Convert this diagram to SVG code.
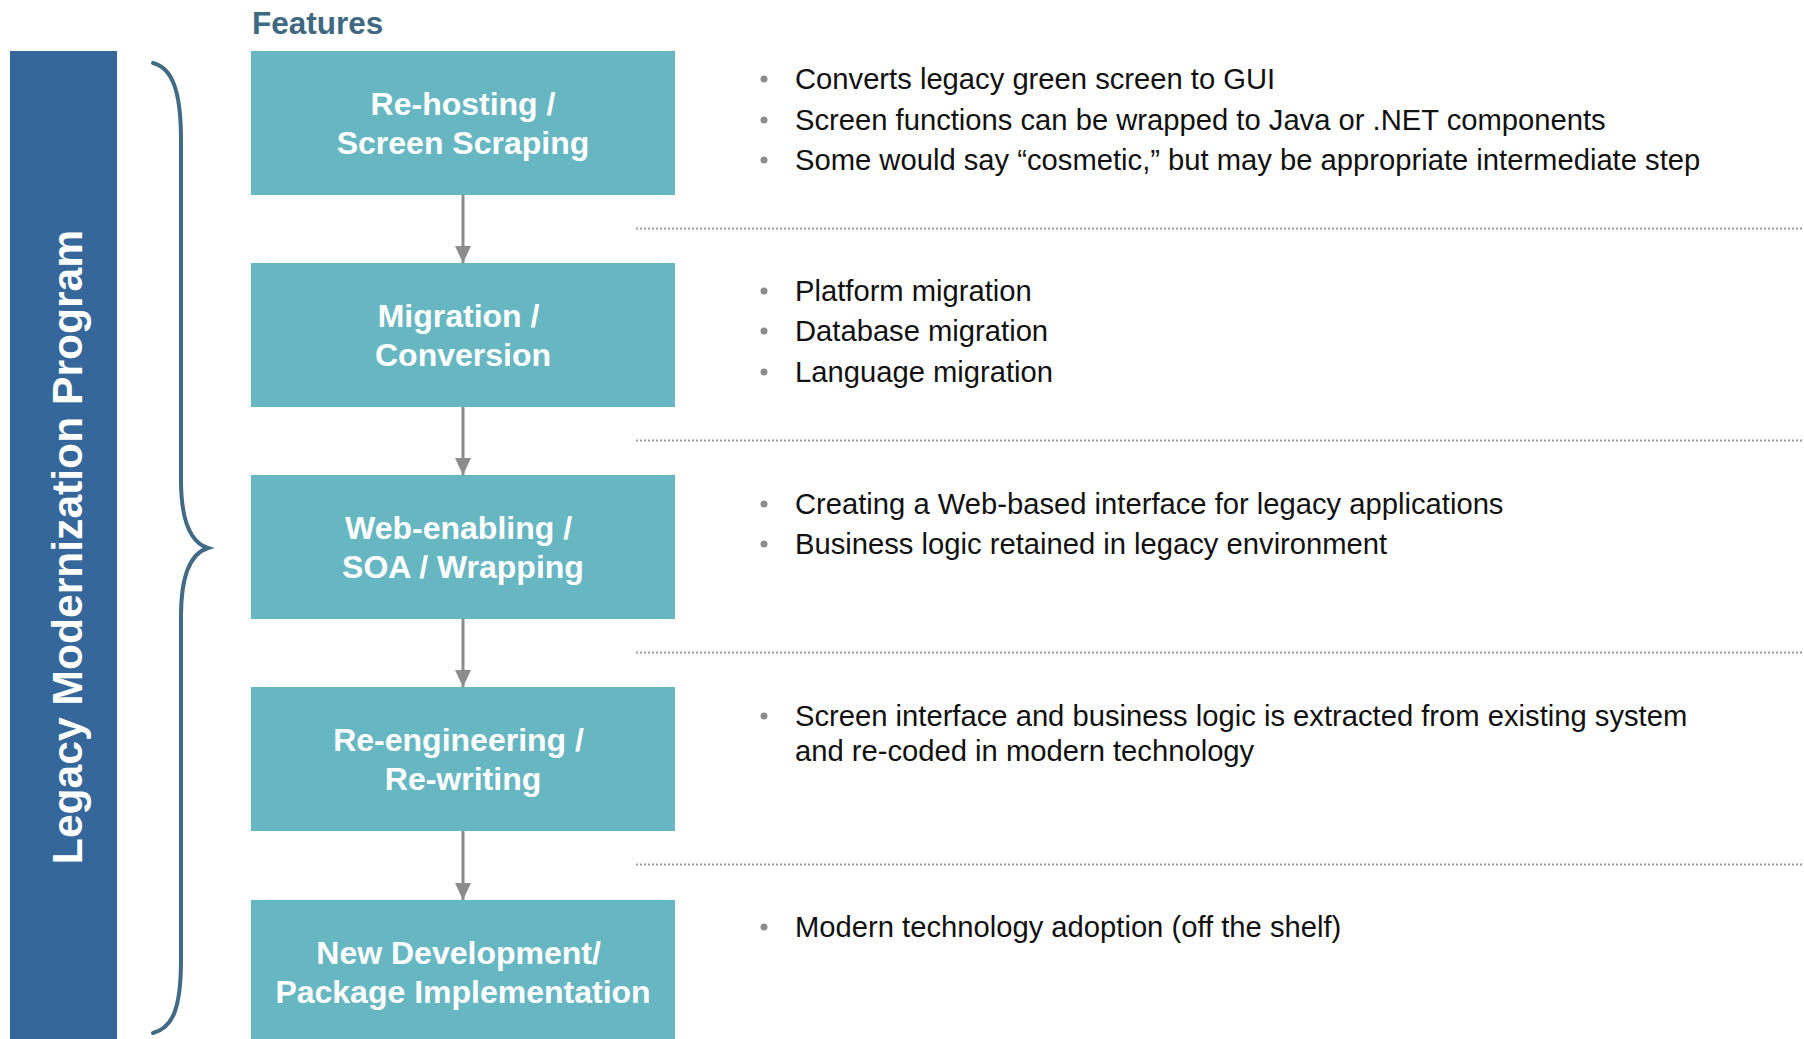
<svg xmlns="http://www.w3.org/2000/svg" width="1804" height="1039" viewBox="0 0 1804 1039">
<defs>
<style>
.box{fill:#67B7C3}
.bt{font-family:"Liberation Sans",Arial,sans-serif;font-weight:bold;font-size:32px;fill:#fff;text-anchor:middle;white-space:pre}
.tx{font-family:"Liberation Sans",Arial,sans-serif;font-size:29.2px;fill:#111}
.dot{fill:#8C8C8C}
.sep{stroke:#9A9A9A;stroke-width:2;stroke-dasharray:2 2;fill:none}
.arr{stroke:#8C8C8C;stroke-width:3;fill:none;marker-end:url(#ah)}
</style>
<marker id="ah" viewBox="0 0 17 16" refX="17" refY="8" markerWidth="17" markerHeight="16" markerUnits="userSpaceOnUse" orient="auto">
<path d="M0,0 L17,8 L0,16 Z" fill="#8C8C8C"/>
</marker>
</defs>
<rect width="1804" height="1039" fill="#fff"/>

<g id="program-bar">
<rect x="10" y="51" width="107" height="988" fill="#35679A"/>
<text x="82" y="547" transform="rotate(-90 82 547)" text-anchor="middle" font-family="'Liberation Sans',Arial,sans-serif" font-weight="bold" font-size="42.6" fill="#fff">Legacy Modernization Program</text>
</g>

<g id="bracket">
<path d="M153,63 C172,68 181,90 181,140 L181,480 C181,525 192,543 208,548 C192,553 181,571 181,616 L181,960 C181,1010 172,1028 153,1033" fill="none" stroke="#426A85" stroke-width="4" stroke-linecap="round"/>
</g>

<g id="features-title">
<text x="252" y="34" font-family="'Liberation Sans',Arial,sans-serif" font-weight="bold" font-size="31.5" fill="#3F6882">Features</text>
</g>

<g id="connectors">
<line class="arr" x1="463" y1="195" x2="463" y2="263"/>
<line class="arr" x1="463" y1="407" x2="463" y2="475"/>
<line class="arr" x1="463" y1="619" x2="463" y2="687"/>
<line class="arr" x1="463" y1="831" x2="463" y2="900"/>
<line class="sep" x1="636" y1="228.5" x2="1804" y2="228.5"/>
<line class="sep" x1="636" y1="440.5" x2="1804" y2="440.5"/>
<line class="sep" x1="636" y1="652.5" x2="1804" y2="652.5"/>
<line class="sep" x1="636" y1="864.5" x2="1804" y2="864.5"/>
</g>

<g id="node-rehosting">
<rect class="box" x="251" y="51" width="424" height="144"/>
<text class="bt" x="463" y="115">Re-hosting /</text>
<text class="bt" x="463" y="154">Screen Scraping</text>
</g>
<g id="node-migration">
<rect class="box" x="251" y="263" width="424" height="144"/>
<text class="bt" x="463" y="327">Migration / </text>
<text class="bt" x="463" y="366">Conversion</text>
</g>
<g id="node-webenabling">
<rect class="box" x="251" y="475" width="424" height="144"/>
<text class="bt" x="463" y="539">Web-enabling / </text>
<text class="bt" x="463" y="578">SOA / Wrapping</text>
</g>
<g id="node-reengineering">
<rect class="box" x="251" y="687" width="424" height="144"/>
<text class="bt" x="463" y="751">Re-engineering / </text>
<text class="bt" x="463" y="790">Re-writing</text>
</g>
<g id="node-newdev">
<rect class="box" x="251" y="900" width="424" height="144"/>
<text class="bt" x="463" y="964">New Development/ </text>
<text class="bt" x="463" y="1003">Package Implementation</text>
</g>

<g id="features-1">
<circle class="dot" cx="764" cy="79" r="3.5"/>
<text class="tx" x="795" y="89">Converts legacy green screen to GUI</text>
<circle class="dot" cx="764" cy="120" r="3.5"/>
<text class="tx" x="795" y="130">Screen functions can be wrapped to Java or .NET components</text>
<circle class="dot" cx="764" cy="160" r="3.5"/>
<text class="tx" x="795" y="170">Some would say “cosmetic,” but may be appropriate intermediate step</text>
</g>
<g id="features-2">
<circle class="dot" cx="764" cy="291" r="3.5"/>
<text class="tx" x="795" y="301">Platform migration</text>
<circle class="dot" cx="764" cy="331" r="3.5"/>
<text class="tx" x="795" y="341">Database migration</text>
<circle class="dot" cx="764" cy="372" r="3.5"/>
<text class="tx" x="795" y="382">Language migration</text>
</g>
<g id="features-3">
<circle class="dot" cx="764" cy="504" r="3.5"/>
<text class="tx" x="795" y="514">Creating a Web-based interface for legacy applications</text>
<circle class="dot" cx="764" cy="544" r="3.5"/>
<text class="tx" x="795" y="554">Business logic retained in legacy environment</text>
</g>
<g id="features-4">
<circle class="dot" cx="764" cy="716" r="3.5"/>
<text class="tx" x="795" y="726">Screen interface and business logic is extracted from existing system</text>
<text class="tx" x="795" y="761">and re-coded in modern technology</text>
</g>
<g id="features-5">
<circle class="dot" cx="764" cy="927" r="3.5"/>
<text class="tx" x="795" y="937">Modern technology adoption (off the shelf)</text>
</g>
</svg>
